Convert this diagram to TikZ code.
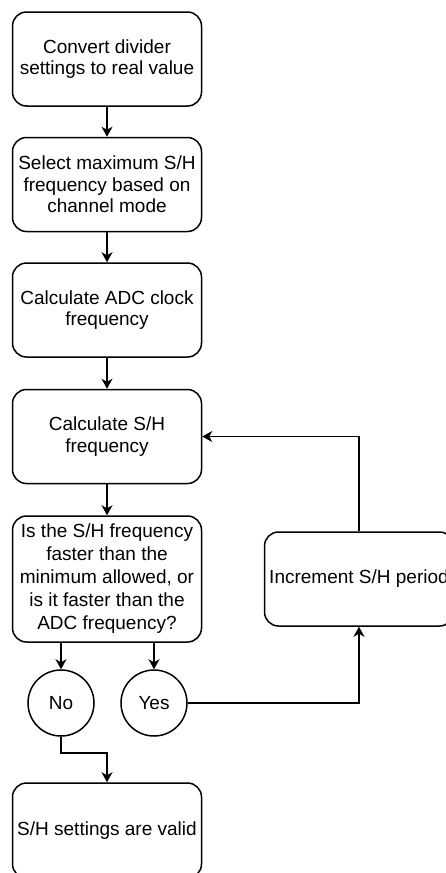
\documentclass[tikz,border=0pt]{standalone}
\usepackage{fontspec}
\setmainfont{Liberation Sans}
\usetikzlibrary{arrows.meta}
\begin{document}
\begin{tikzpicture}[x=1pt,y=-1pt,
  box/.style={draw, line width=1.5pt, rounded corners=14pt, minimum width=189pt, minimum height=94pt, align=center, font=\fontsize{19}{21.5}\selectfont, inner sep=0pt},
  circ/.style={draw, circle, line width=1.5pt, minimum size=66pt, font=\fontsize{19}{21.5}\selectfont, inner sep=0pt},
  arr/.style={line width=1.5pt, -{Stealth[length=10pt,width=11pt,inset=3pt]}},
  ln/.style={line width=1.5pt}]
\useasboundingbox (0,0) rectangle (445,873);
\node[box] (b1) at (107,59) {Convert divider\\settings to real value};
\node[box] (b2) at (107,184.5) {Select maximum S/H\\frequency based on\\channel mode};
\node[box] (b3) at (107,310) {Calculate ADC clock\\frequency};
\node[box] (b4) at (107,436.5) {Calculate S/H\\frequency};
\node[box, minimum height=126pt, font=\fontsize{19}{23}\selectfont] (b5) at (107,579) {Is the S/H frequency\\faster than the\\minimum allowed, or\\is it faster than the\\ADC frequency?};
\node[circ] (no) at (61,703) {No};
\node[circ] (yes) at (154,703) {Yes};
\node[box] (inc) at (359,579) {Increment S/H period};
\node[box, minimum height=95pt] (b6) at (107,830.5) {S/H settings are valid};
\draw[arr] (b1) -- (b2);
\draw[arr] (b2) -- (b3);
\draw[arr] (b3) -- (b4);
\draw[arr] (b4) -- (b5);
\draw[arr] (no |- b5.south) -- (no.north);
\draw[arr] (yes |- b5.south) -- (yes.north);
\draw[arr] (yes.east) -| (inc.south);
\draw[arr] (inc.north) |- (b4.east);
\draw[arr] (no.south) -- ++(0,16) -| (b6.north);
\end{tikzpicture}
\end{document}
